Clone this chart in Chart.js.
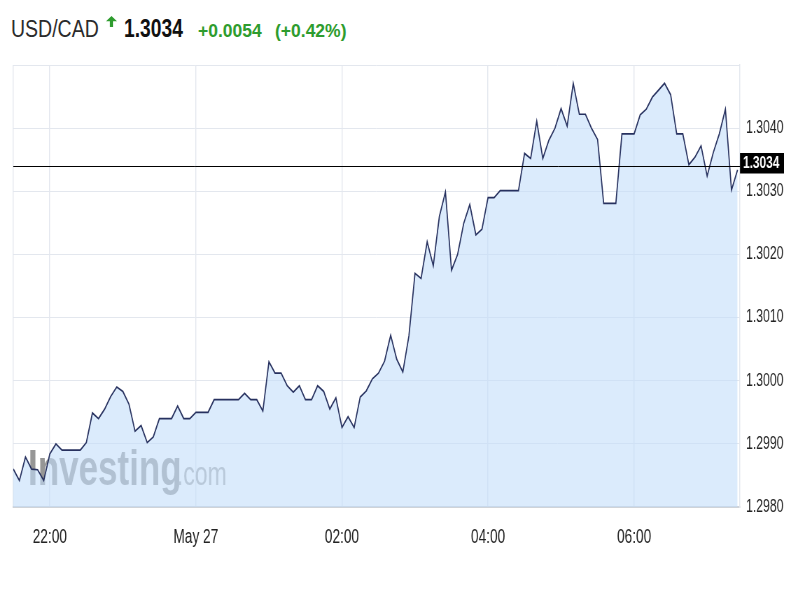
<!DOCTYPE html>
<html>
<head>
<meta charset="utf-8">
<title>USD/CAD</title>
<script src="https://cdn.jsdelivr.net/npm/chart.js@4.4.1/dist/chart.umd.min.js"></script>
<style>
    html, body { margin: 0; padding: 0; width: 800px; height: 600px; overflow: hidden; background: #fff; }
    body { font-family: 'Liberation Sans', Arial, sans-serif; position: relative; }
    .quote span { position: absolute; white-space: nowrap; line-height: 1; transform-origin: 0 0; }
    .quote .pair { left: 11px; top: 17.6px; font-size: 23.5px; color: #2b2b2b; transform: scaleX(0.83); }
    .quote .last { left: 124px; top: 16.3px; font-size: 25px; font-weight: bold; color: #111; transform: scaleX(0.77); }
    .quote .chg { left: 198px; top: 22.7px; font-size: 17.5px; font-weight: bold; color: #2e9c2e; }
    .quote .pct { left: 275px; top: 22.7px; font-size: 17.5px; font-weight: bold; color: #2e9c2e; }
    .quote svg { position: absolute; left: 106px; top: 16px; }
    /* chart is drawn wide and squeezed, like the narrow type of the source */
    .chart-wrap { position: absolute; left: 0; top: 0; width: 1143px; height: 600px; transform: scaleX(0.7); transform-origin: 0 0; }
</style>
</head>
<body>
<div class="quote">
    <span class="pair">USD/CAD</span>
    <svg width="11" height="11" viewBox="0 0 11 11"><path d="M5.5 0 L11 5.2 L7.1 5.2 L7.1 11 L3.9 11 L3.9 5.2 L0 5.2 Z" fill="#2e9c2e"/></svg>
    <span class="last">1.3034</span>
    <span class="chg">+0.0054</span>
    <span class="pct">(+0.42%)</span>
</div>
<div class="chart-wrap"><canvas id="fxChart"></canvas></div>

<script>
// 5-minute closes from 21:30 to 07:25
const stepMinutes = 5;
const rates = [
    1.29860, 1.29842, 1.29879, 1.29860, 1.29859, 1.29842, 1.29884, 1.29900, 1.29890, 1.29890,
    1.29890, 1.29890, 1.29902, 1.29949, 1.29940, 1.29955, 1.29975, 1.29990, 1.29983, 1.29963,
    1.29920, 1.29929, 1.29902, 1.29911, 1.29940, 1.29940, 1.29940, 1.29960, 1.29940, 1.29940,
    1.29950, 1.29950, 1.29950, 1.29970, 1.29970, 1.29970, 1.29970, 1.29970, 1.29980, 1.29970,
    1.29970, 1.29952, 1.30030, 1.30012, 1.30012, 1.29992, 1.29982, 1.29992, 1.29970, 1.29970,
    1.29992, 1.29983, 1.29955, 1.29973, 1.29926, 1.29943, 1.29926, 1.29974, 1.29984, 1.30003,
    1.30012, 1.30031, 1.30072, 1.30034, 1.30014, 1.30071, 1.30170, 1.30162, 1.30220, 1.30182,
    1.30260, 1.30299, 1.30175, 1.30200, 1.30249, 1.30279, 1.30231, 1.30240, 1.30290, 1.30290,
    1.30301, 1.30301, 1.30301, 1.30301, 1.30360, 1.30352, 1.30411, 1.30352, 1.30381, 1.30400,
    1.30431, 1.30403, 1.30471, 1.30422, 1.30422, 1.30400, 1.30382, 1.30281, 1.30281, 1.30281,
    1.30391, 1.30391, 1.30391, 1.30421, 1.30430, 1.30449, 1.30460, 1.30471, 1.30453, 1.30391,
    1.30391, 1.30342, 1.30354, 1.30372, 1.30324, 1.30361, 1.30391, 1.30430, 1.30302, 1.30334
];
const currentPrice = 1.3034;

// minutes after 21:30
const tickMinutes = [0, 30, 150, 270, 390, 510];
const tickLabels = ['', '22:00', 'May 27', '02:00', '04:00', '06:00'];

const yMin = 1.2980;
const yMax = 1.3050;
const yStep = 0.0010;

const SQUEEZE = 0.7;
const gridColor = '#e3e7ee';

Chart.defaults.font.family = "'Liberation Sans', Arial, sans-serif";
Chart.defaults.color = '#333';

const priceMarker = {
    id: 'priceMarker',
    beforeDatasetsDraw(chart) {
        const ctx = chart.ctx;
        const area = chart.chartArea;
        ctx.save();
        ctx.beginPath();
        ctx.rect(area.left, area.top, area.right - area.left, area.bottom - area.top);
        ctx.clip();
        ctx.textBaseline = 'alphabetic';
        ctx.textAlign = 'left';
        ctx.font = 'bold 50px "Liberation Sans", Arial, sans-serif';
        ctx.fillStyle = '#969696';
        const x0 = 28 / SQUEEZE;
        ctx.fillText('Investing', x0, 485);
        const w = ctx.measureText('Investing').width;
        ctx.font = '33px "Liberation Sans", Arial, sans-serif';
        ctx.fillStyle = '#aaaaaa';
        ctx.fillText('.com', x0 + w - 7, 485);
        ctx.restore();
    },
    afterDatasetsDraw(chart) {
        const ctx = chart.ctx;
        const area = chart.chartArea;
        const y = Math.round(chart.scales.y.getPixelForValue(currentPrice)) + 0.5;
        ctx.save();
        ctx.strokeStyle = '#000';
        ctx.lineWidth = 1;
        ctx.beginPath();
        ctx.moveTo(area.left, y);
        ctx.lineTo(area.right, y);
        ctx.stroke();

        ctx.fillStyle = '#000';
        ctx.fillRect(area.right, y - 13.5, 44 / SQUEEZE, 20.5);
        ctx.fillStyle = '#fff';
        ctx.font = 'bold 17px "Liberation Sans", Arial, sans-serif';
        ctx.textAlign = 'left';
        ctx.textBaseline = 'middle';
        ctx.fillText(currentPrice.toFixed(4), area.right + 3 / SQUEEZE, y - 3);
        ctx.restore();
    }
};

new Chart(document.getElementById('fxChart'), {
    type: 'line',
    data: {
        datasets: [{
            label: 'USD/CAD',
            data: rates.map(function(v, i) { return { x: i * stepMinutes, y: v }; }),
            borderColor: '#27315f',
            backgroundColor: 'rgba(195, 222, 250, 0.6)',
            borderWidth: 1.7,
            fill: 'start',
            tension: 0,
            pointRadius: 0
        }]
    },
    options: {
        responsive: true,
        maintainAspectRatio: false,
        animation: false,
        events: [],
        layout: { padding: { left: 10 / SQUEEZE, top: 65, right: 0, bottom: 0 } },
        plugins: {
            legend: { display: false },
            tooltip: { enabled: false }
        },
        scales: {
            x: {
                type: 'linear',
                min: 0,
                max: 597,
                afterBuildTicks: function(scale) {
                    scale.ticks = tickMinutes.map(function(m) { return { value: m }; });
                },
                afterFit: function(scale) { scale.height = 93; },
                grid: { color: gridColor, lineWidth: 1.4, drawTicks: false },
                border: { color: '#cfd3d8', width: 2 },
                ticks: {
                    autoSkip: false,
                    maxRotation: 0,
                    padding: 19,
                    color: '#222',
                    font: { size: 19.5 },
                    callback: function(value) {
                        const idx = tickMinutes.indexOf(value);
                        return idx >= 0 ? tickLabels[idx] : '';
                    }
                }
            },
            y: {
                position: 'right',
                min: yMin,
                max: yMax,
                afterFit: function(scale) { scale.width = 1143 - 740 / SQUEEZE; },
                grid: { color: gridColor, drawTicks: false },
                border: { color: gridColor, width: 1.4 },
                ticks: {
                    stepSize: yStep,
                    padding: 6 / SQUEEZE,
                    color: '#222',
                    font: { size: 17.5 },
                    callback: function(value) {
                        return value > yMax - yStep / 2 ? '' : value.toFixed(4);
                    }
                }
            }
        }
    },
    plugins: [priceMarker]
});
</script>
</body>
</html>
